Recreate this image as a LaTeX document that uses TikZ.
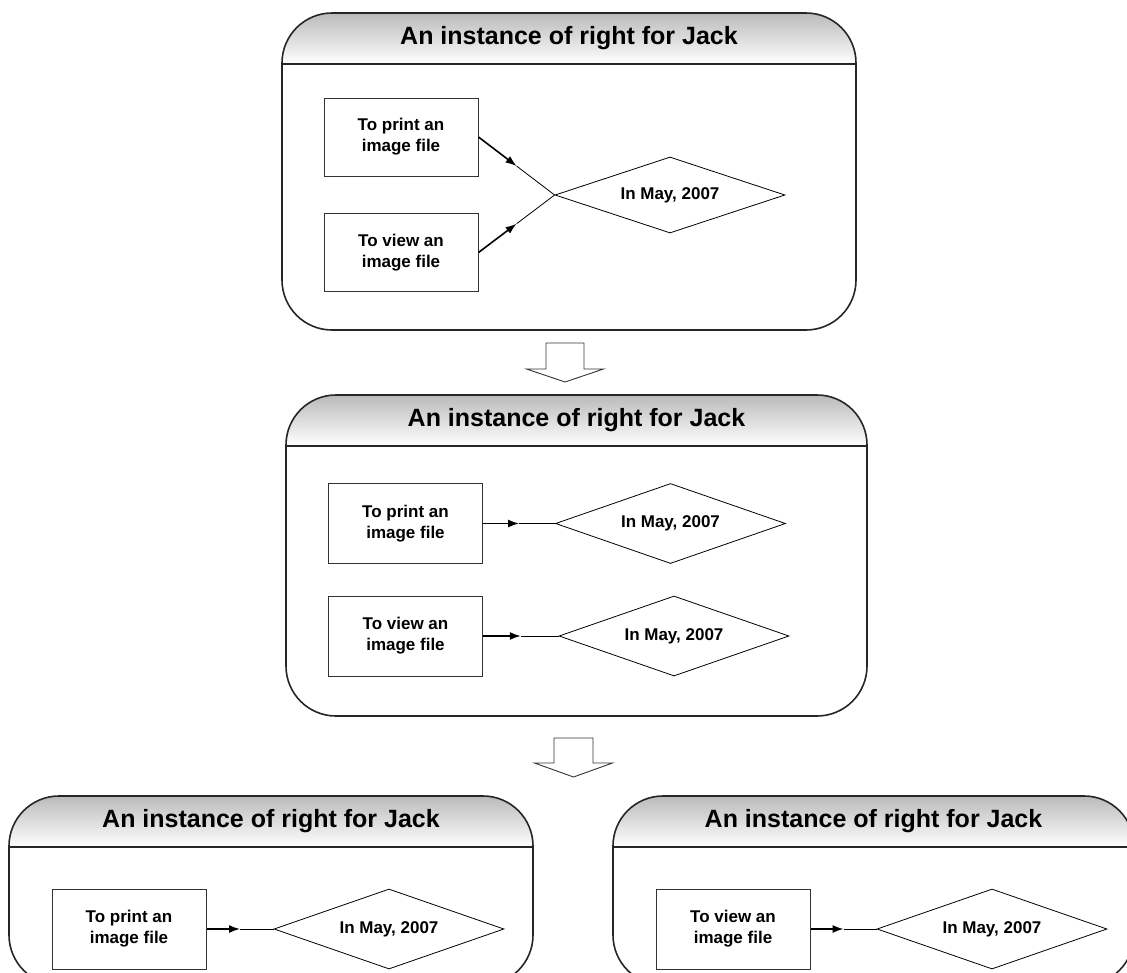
\documentclass[tikz,border=0pt]{standalone}
\usepackage{fontspec}
\setmainfont{Liberation Sans}
\usetikzlibrary{arrows.meta,calc,shapes.geometric}

% a rounded frame with a shaded title band; #1 = frame node name
\newcommand{\rightframe}[1]{%
  \begin{scope}
    \clip[rounded corners=50pt] (#1.north west) rectangle (#1.south east);
    \shade[top color=black!27, bottom color=white]
      (#1.north west) rectangle ([yshift=-51pt]#1.north east);
    \draw[line width=1.6pt, black!85]
      ([yshift=-51pt]#1.north west) -- ([yshift=-51pt]#1.north east);
  \end{scope}
  \draw[framestroke] (#1.north west) rectangle (#1.south east);
}

\begin{document}
\begin{tikzpicture}[x=1pt,y=-1pt,
  frame/.style={inner sep=0pt, outer sep=0pt},
  framestroke/.style={draw=black!85, line width=1.6pt, rounded corners=50pt},
  title/.style={font=\fontsize{25}{30}\selectfont\bfseries, inner sep=0pt},
  taskbox/.style={draw=black!80, line width=1pt, minimum width=154pt, minimum height=80pt,
    align=center, inner sep=0pt, font=\fontsize{17}{21}\selectfont\bfseries},
  timebox/.style={draw=black, line width=0.8pt, diamond, aspect=3, minimum width=230pt,
    minimum height=80pt, inner sep=0pt, font=\fontsize{17}{21}\selectfont\bfseries},
  lead/.style={line width=1.6pt, -{Latex[length=11pt,width=8pt]}},
  tail/.style={line width=0.8pt},
  blockarrow/.style={draw=black!80, line width=0.9pt, fill=white, line join=miter}
]
\clip (0,0) rectangle (1127,972);

% ---- first stage: one right covering two actions ----
\node[frame, minimum width=574pt, minimum height=317pt] (A) at (569,171.5) {};
\rightframe{A}
\node[title] (tA) at (569,38) {An instance of right for Jack};
\node[taskbox, minimum height=78pt] (a1) at (401,137) {To print an\\image file};
\node[taskbox, minimum height=78pt] (a2) at (401,252.5) {To view an\\image file};
\node[timebox, minimum height=76pt] (ad) at (670,195) {In May, 2007};
\coordinate (am1) at ($(a1.east)!0.5!(ad.west)$);
\coordinate (am2) at ($(a2.east)!0.5!(ad.west)$);
\draw[lead] (a1.east) -- (am1);
\draw[tail] (am1) -- (ad.west);
\draw[lead] (a2.east) -- (am2);
\draw[tail] (am2) -- (ad.west);

% ---- block arrow between stage one and two ----
\coordinate (s1) at (565,343);
\draw[blockarrow] (s1) ++(-19,0) -- ++(38,0) -- ++(0,26) -- ++(19.5,0)
  -- ++(-38.5,13) -- ++(-38.5,-13) -- ++(19.5,0) -- cycle;

% ---- second stage: the right split per action ----
\node[frame, minimum width=581pt, minimum height=321pt] (B) at (576.5,555.5) {};
\rightframe{B}
\node[title] (tB) at (576.5,420) {An instance of right for Jack};
\node[taskbox] (b1) at (405.5,523.5) {To print an\\image file};
\node[taskbox] (b2) at (405.5,636) {To view an\\image file};
\node[timebox] (bd1) at (670.5,523.5) {In May, 2007};
\node[timebox] (bd2) at (674,636) {In May, 2007};
\coordinate (bm1) at ($(b1.east)!0.5!(bd1.west)$);
\coordinate (bm2) at ($(b2.east)!0.5!(bd2.west)$);
\draw[lead] (b1.east) -- (bm1);
\draw[tail] (bm1) -- (bd1.west);
\draw[lead] (b2.east) -- (bm2);
\draw[tail] (bm2) -- (bd2.west);

% ---- block arrow between stage two and three ----
\coordinate (s2) at (573.5,738);
\draw[blockarrow] (s2) ++(-19.5,0) -- ++(39,0) -- ++(0,25) -- ++(19.5,0)
  -- ++(-39,14) -- ++(-39,-14) -- ++(19.5,0) -- cycle;

% ---- third stage: two separate rights ----
\node[frame, minimum width=524pt, minimum height=189pt] (C) at (271,890.5) {};
\rightframe{C}
\node[title] (tC) at (271,821) {An instance of right for Jack};
\node[taskbox] (c1) at (129,929) {To print an\\image file};
\node[timebox] (cd) at (389,929) {In May, 2007};
\coordinate (cm) at ($(c1.east)!0.5!(cd.west)$);
\draw[lead] (c1.east) -- (cm);
\draw[tail] (cm) -- (cd.west);

\node[frame, minimum width=521pt, minimum height=189pt] (D) at (873.5,890.5) {};
\rightframe{D}
\node[title] (tD) at (873.5,821) {An instance of right for Jack};
\node[taskbox] (d1) at (733,929) {To view an\\image file};
\node[timebox] (dd) at (992,929) {In May, 2007};
\coordinate (dm) at ($(d1.east)!0.5!(dd.west)$);
\draw[lead] (d1.east) -- (dm);
\draw[tail] (dm) -- (dd.west);
\end{tikzpicture}
\end{document}
